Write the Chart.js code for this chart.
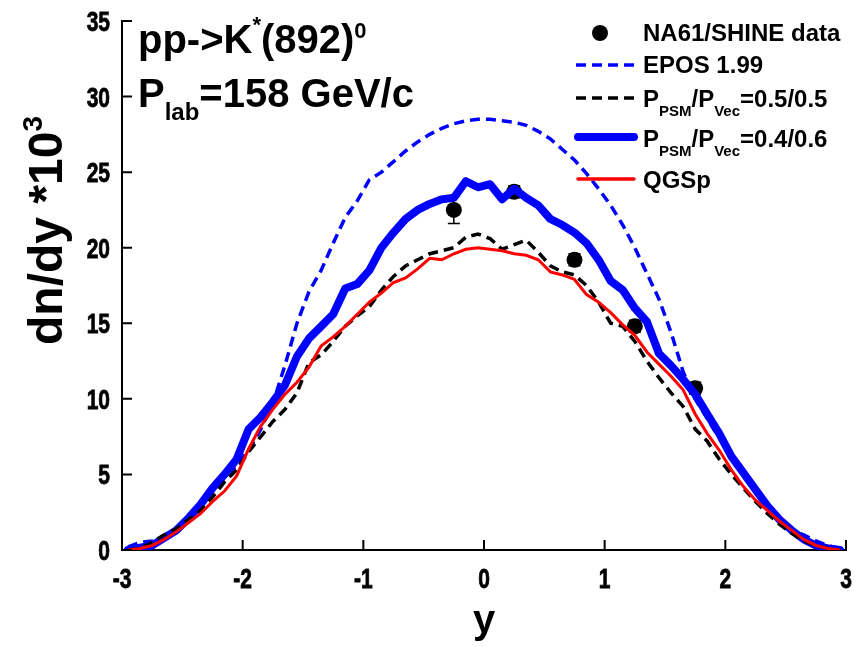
<!DOCTYPE html>
<html>
<head>
<meta charset="utf-8">
<script src="https://cdn.jsdelivr.net/npm/chart.js@4.4.1/dist/chart.umd.min.js"></script>
<style>
html, body { margin: 0; padding: 0; background: #fff; }
</style>
</head>
<body>
<canvas id="chart" width="854" height="647"></canvas>
<script>
// rapidity bins (centres)
const rapidity = [-2.95, -2.85, -2.75, -2.65, -2.55, -2.45, -2.35, -2.25, -2.15, -2.05,
  -1.95, -1.85, -1.75, -1.65, -1.55, -1.45, -1.35, -1.25, -1.15, -1.05,
  -0.95, -0.85, -0.75, -0.65, -0.55, -0.45, -0.35, -0.25, -0.15, -0.05,
  0.05, 0.15, 0.25, 0.35, 0.45, 0.55, 0.65, 0.75, 0.85, 0.95,
  1.05, 1.15, 1.25, 1.35, 1.45, 1.55, 1.65, 1.75, 1.85, 1.95,
  2.05, 2.15, 2.25, 2.35, 2.45, 2.55, 2.65, 2.75, 2.85, 2.95];

const epos = [0.2, 0.5, 0.6, 0.9, 1.3, 2.0, 2.9, 3.9, 4.8, 5.6,
  6.6, 8.0, 9.7, 12.2, 15.0, 17.1, 18.5, 20.3, 22.0, 23.1,
  24.5, 25.0, 25.7, 26.4, 27.0, 27.5, 27.9, 28.2, 28.4, 28.5,
  28.5, 28.4, 28.3, 28.1, 27.7, 27.2, 26.5, 25.8, 24.9, 23.9,
  22.8, 21.5, 20.0, 18.3, 16.6, 14.4, 11.8, 10.0, 8.7, 7.4,
  6.0, 4.9, 3.8, 2.8, 1.9, 1.3, 1.0, 0.6, 0.3, 0.1];

const psm55 = [0.0, 0.1, 0.5, 1.0, 1.4, 2.0, 2.6, 3.5, 4.5, 5.3,
  6.5, 7.5, 8.5, 9.3, 10.4, 12.4, 12.9, 13.8, 14.8, 15.5,
  16.1, 17.2, 18.1, 18.8, 19.2, 19.6, 19.8, 20.0, 20.7, 20.9,
  20.6, 19.9, 20.2, 20.5, 19.7, 18.8, 18.4, 18.2, 17.5, 16.4,
  15.0, 14.8, 13.8, 12.5, 11.4, 10.4, 9.5, 8.0, 7.2, 6.0,
  5.0, 4.1, 3.2, 2.4, 1.7, 1.1, 0.6, 0.3, 0.1, 0.0];

const psm46 = [0.0, 0.15, 0.3, 0.8, 1.3, 2.1, 3.0, 4.1, 5.0, 6.0,
  8.0, 8.8, 9.8, 10.9, 12.8, 14.0, 14.8, 15.6, 17.3, 17.6,
  18.5, 20.0, 21.0, 21.9, 22.5, 22.9, 23.2, 23.3, 24.4, 24.0,
  24.2, 23.2, 23.9, 23.3, 22.8, 21.9, 21.5, 21.0, 20.3, 19.2,
  17.8, 17.2, 16.0, 15.1, 13.0, 12.2, 11.3, 10.3, 9.0, 7.7,
  6.2, 5.1, 4.0, 2.9, 2.0, 1.3, 0.7, 0.3, 0.1, 0.0];

const qgsp = [0.0, 0.1, 0.3, 0.7, 1.2, 1.8, 2.4, 3.2, 3.9, 4.9,
  6.7, 8.2, 9.3, 10.3, 11.1, 12.1, 13.5, 14.1, 14.8, 15.6,
  16.4, 17.0, 17.7, 18.0, 18.6, 19.3, 19.2, 19.6, 19.9, 20.0,
  19.9, 19.8, 19.6, 19.5, 19.2, 18.4, 18.2, 17.9, 16.9, 16.4,
  15.7, 14.9, 14.2, 13.1, 12.3, 11.5, 10.6, 9.0, 7.7, 6.6,
  5.3, 4.2, 3.3, 2.6, 1.9, 1.3, 0.7, 0.3, 0.1, 0.0];

// NA61/SHINE points
const na61Y = [-0.25, 0.25, 0.75, 1.25, 1.75];
const na61Val = [22.5, 23.7, 19.2, 14.8, 10.7];
const na61Err = [0.9, 0.4, 0.4, 0.4, 0.4];

const xTicks = [-3, -2, -1, 0, 1, 2, 3];
const yTicks = [0, 5, 10, 15, 20, 25, 30, 35];

const FONT = '"Liberation Sans", Arial, sans-serif';

const pts = arr => arr.map((v, i) => ({ x: rapidity[i], y: v }));

function richText(ctx, x, y, parts) {
    parts.forEach(p => {
        ctx.font = 'bold ' + p.size + 'px ' + FONT;
        ctx.fillText(p.text, x, y + (p.dy || 0));
        x += ctx.measureText(p.text).width;
    });
}

// narrow bold tick numbers (the original uses a condensed face)
function narrowText(ctx, text, x, y, align) {
    ctx.save();
    ctx.font = 'bold 28px ' + FONT;
    const w = ctx.measureText(text).width * 0.75;
    const x0 = align === 'right' ? x - w : x - w / 2;
    ctx.translate(x0, y);
    ctx.scale(0.75, 1);
    ctx.textAlign = 'left';
    ctx.lineWidth = 0.8;
    ctx.fillText(text, 0, 0);
    ctx.strokeText(text, 0, 0);
    ctx.restore();
}

// error bars below everything
const errorBars = {
    id: 'errorBars',
    beforeDatasetsDraw(chart) {
        const { ctx, scales: { x, y } } = chart;
        ctx.save();
        ctx.strokeStyle = '#000';
        ctx.lineWidth = 1.5;
        na61Y.forEach((xv, i) => {
            const px = x.getPixelForValue(xv);
            const lo = y.getPixelForValue(na61Val[i] - na61Err[i]);
            const hi = y.getPixelForValue(na61Val[i] + na61Err[i]);
            ctx.beginPath();
            ctx.moveTo(px, lo); ctx.lineTo(px, hi);
            ctx.moveTo(px - 6, lo); ctx.lineTo(px + 6, lo);
            ctx.moveTo(px - 6, hi); ctx.lineTo(px + 6, hi);
            ctx.stroke();
        });
        ctx.restore();
    }
};

// inward ticks, tick labels, titles, legend
const decorations = {
    id: 'decorations',
    afterDraw(chart) {
        const { ctx, chartArea: area, scales: { x, y } } = chart;
        ctx.save();
        ctx.strokeStyle = '#000';
        ctx.fillStyle = '#000';
        ctx.lineWidth = 2;
        ctx.textBaseline = 'alphabetic';
        ctx.beginPath();
        xTicks.forEach(t => {
            const px = x.getPixelForValue(t);
            ctx.moveTo(px, area.bottom); ctx.lineTo(px, area.bottom - 10);
        });
        yTicks.forEach(t => {
            const py = y.getPixelForValue(t);
            ctx.moveTo(area.left, py); ctx.lineTo(area.left + 10, py);
        });
        ctx.stroke();

        xTicks.forEach(t => narrowText(ctx, String(t), x.getPixelForValue(t), area.bottom + 38, 'center'));
        yTicks.forEach(t => narrowText(ctx, String(t), area.left - 12, y.getPixelForValue(t) + 10, 'right'));

        ctx.textAlign = 'left';

        // title block
        richText(ctx, 138, 53, [
            { text: 'pp->K', size: 40 },
            { text: '*', size: 22, dy: -21 },
            { text: '(892)', size: 40 },
            { text: '0', size: 22, dy: -15 }
        ]);
        richText(ctx, 138, 107, [
            { text: 'P', size: 40 },
            { text: 'lab', size: 24, dy: 13 },
            { text: '=158 GeV/c', size: 40 }
        ]);

        // axis titles
        ctx.save();
        ctx.translate(62, 345);
        ctx.rotate(-Math.PI / 2);
        richText(ctx, 0, 0, [
            { text: 'dn/dy *10', size: 48 },
            { text: '3', size: 28, dy: -20 }
        ]);
        ctx.restore();
        ctx.textAlign = 'center';
        ctx.font = 'bold 40px ' + FONT;
        ctx.fillText('y', x.getPixelForValue(0), 633);
        ctx.textAlign = 'left';

        // legend
        ctx.beginPath();
        ctx.arc(600, 33, 8, 0, Math.PI * 2);
        ctx.fill();
        richText(ctx, 643, 41, [{ text: 'NA61/SHINE data', size: 24 }]);

        const sample = (yy, color, width, dash) => {
            ctx.save();
            ctx.strokeStyle = color;
            ctx.lineWidth = width;
            ctx.setLineDash(dash);
            ctx.lineCap = dash.length ? 'butt' : 'round';
            ctx.beginPath();
            ctx.moveTo(dash.length ? 576 : 578, yy);
            ctx.lineTo(dash.length ? 636 : 634, yy);
            ctx.stroke();
            ctx.restore();
        };
        sample(65, '#0000ff', 3.5, [10, 6]);
        richText(ctx, 643, 73, [{ text: 'EPOS 1.99', size: 24 }]);
        sample(98, '#000', 3.5, [10, 6]);
        richText(ctx, 643, 107, [
            { text: 'P', size: 24 }, { text: 'PSM', size: 15, dy: 9 },
            { text: '/P', size: 24 }, { text: 'Vec', size: 15, dy: 9 },
            { text: '=0.5/0.5', size: 24 }
        ]);
        sample(137, '#0000ff', 8, []);
        richText(ctx, 643, 147, [
            { text: 'P', size: 24 }, { text: 'PSM', size: 15, dy: 9 },
            { text: '/P', size: 24 }, { text: 'Vec', size: 15, dy: 9 },
            { text: '=0.4/0.6', size: 24 }
        ]);
        sample(179, '#ff0000', 3.5, []);
        richText(ctx, 643, 188, [{ text: 'QGSp', size: 24 }]);
        ctx.restore();
    }
};

const ctx = document.getElementById('chart').getContext('2d');
const chart = new Chart(ctx, {
    type: 'line',
    data: {
        datasets: [
            { label: 'QGSp', data: pts(qgsp), borderColor: '#ff0000', borderWidth: 3, pointRadius: 0, fill: false },
            { label: 'PPSM/PVec=0.5/0.5', data: pts(psm55), borderColor: '#000000', borderWidth: 3.5, borderDash: [10, 6], pointRadius: 0, fill: false },
            { label: 'PPSM/PVec=0.4/0.6', data: pts(psm46), borderColor: '#0000ff', borderWidth: 8, borderJoinStyle: 'round', borderCapStyle: 'round', pointRadius: 0, fill: false },
            { label: 'EPOS 1.99', data: pts(epos), borderColor: '#0000ff', borderWidth: 3.5, borderDash: [10, 6], pointRadius: 0, fill: false },
            {
                label: 'NA61/SHINE data',
                data: na61Y.map((v, i) => ({ x: v, y: na61Val[i] })),
                showLine: false, pointRadius: 8, pointBackgroundColor: '#000', pointBorderColor: '#000', pointBorderWidth: 0
            }
        ]
    },
    options: {
        responsive: false,
        animation: false,
        layout: { padding: { top: 21, right: 8, left: 0, bottom: 0 } },
        plugins: { legend: { display: false }, tooltip: { enabled: false } },
        scales: {
            x: {
                type: 'linear', min: -3, max: 3,
                ticks: { display: false, stepSize: 1 },
                grid: { display: false },
                border: { display: true, color: '#000', width: 2 },
                afterFit: s => { s.height = 97; }
            },
            y: {
                min: 0, max: 35,
                ticks: { display: false, stepSize: 5 },
                grid: { display: false },
                border: { display: true, color: '#000', width: 2 },
                afterFit: s => { s.width = 122; }
            }
        }
    },
    plugins: [errorBars, decorations]
});
</script>
</body>
</html>
